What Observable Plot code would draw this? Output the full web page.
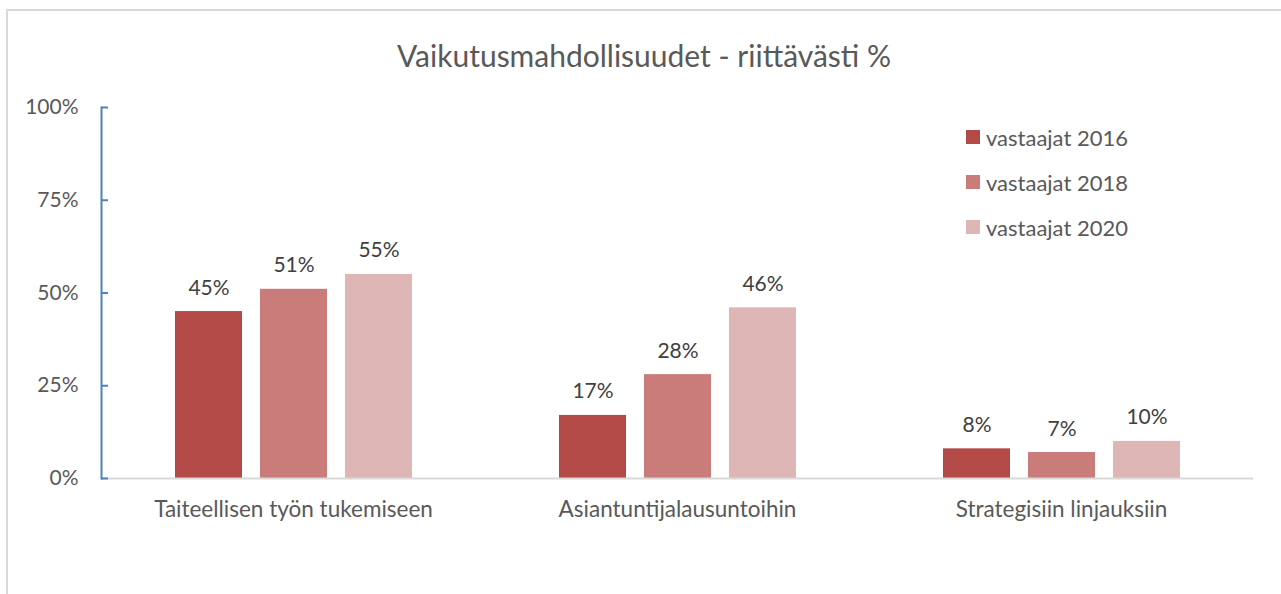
<!DOCTYPE html>
<html><head><meta charset="utf-8">
<script src="https://cdn.jsdelivr.net/npm/d3@7"></script>
<script src="https://cdn.jsdelivr.net/npm/@observablehq/plot@0.6"></script>
<style>
html,body{margin:0;padding:0;background:#fff;}
body{font-family:Lato,"Open Sans",sans-serif;color:#595959;width:1281px;height:594px;overflow:hidden;position:relative;}
#border{position:absolute;left:6px;top:9px;width:1400px;height:800px;border-left:2px solid #d9d9d9;border-top:2px solid #d9d9d9;}
#title{position:relative;height:90px;box-sizing:border-box;padding-top:37px;padding-left:7px;text-align:center;font-size:30px;line-height:36px;color:#595959;}
#chart{position:relative;}
#legend{position:absolute;left:966px;top:123px;font-size:22px;color:#595959;}
.item{display:flex;align-items:center;height:28px;margin-bottom:17px;}
.sw{width:14px;height:14px;margin-right:6px;}
</style></head>
<body>
<div id="border"></div>
<div id="title">Vaikutusmahdollisuudet - riittävästi %</div>
<div id="chart"></div>
<div id="legend"></div>
<script>
const categories = ["Taiteellisen työn tukemiseen", "Asiantuntijalausuntoihin", "Strategisiin linjauksiin"];
const years = ["vastaajat 2016", "vastaajat 2018", "vastaajat 2020"];
const v2016 = [0.45, 0.17, 0.08];
const v2018 = [0.51, 0.28, 0.07];
const v2020 = [0.55, 0.46, 0.10];
const yTicks = [0, 0.25, 0.5, 0.75, 1];
const colors = ["#b34a48", "#c97c7a", "#deb6b6"];

const series = [v2016, v2018, v2020];
const data = [];
categories.forEach((c, i) => years.forEach((y, j) => data.push({cat: c, year: y, value: series[j][i]})));
const fmt = d3.format(".0%");

const plot = Plot.plot({
  width: 1281,
  height: 504,
  marginTop: 17,
  marginBottom: 116,
  marginLeft: 100,
  marginRight: 27,
  style: {fontFamily: "Lato, 'Open Sans', sans-serif", fontSize: "21px", color: "#595959", background: "transparent"},
  fx: {domain: categories, padding: 0, label: null},
  x: {domain: years, paddingInner: 0.216, paddingOuter: 0.857, axis: null},
  y: {domain: [0, 1], label: null},
  color: {domain: years, range: colors},
  marks: [
    Plot.barY(data, {fx: "cat", x: "year", y: "value", fill: "year"}),
    Plot.text(data, {fx: "cat", x: "year", y: "value", text: d => fmt(d.value), dy: -17, lineAnchor: "bottom", fill: "#404040", fontSize: 21}),
    Plot.ruleY([0], {stroke: "#d9d9d9", strokeWidth: 2}),
    Plot.frame({anchor: "left", stroke: "#4f81bd", strokeWidth: 2, facetAnchor: "left"}),
    Plot.axisY(yTicks, {tickSize: 0, tickPadding: 23, tickFormat: fmt, label: null, fontSize: 21}),
    Plot.axisY(yTicks, {tickSize: -7, stroke: "#4f81bd", strokeWidth: 2, fill: "none", label: null, tickFormat: () => ""}),
    Plot.axisFx({anchor: "bottom", tickSize: 0, tickPadding: 23, label: null, fontSize: 22.5})
  ]
});
document.getElementById("chart").appendChild(plot);

const legend = document.getElementById("legend");
years.forEach((y, j) => {
  const it = document.createElement("div");
  it.className = "item";
  const sw = document.createElement("div");
  sw.className = "sw";
  sw.style.background = colors[j];
  const t = document.createElement("span");
  t.textContent = y;
  it.appendChild(sw); it.appendChild(t);
  legend.appendChild(it);
});
</script>
</body></html>
